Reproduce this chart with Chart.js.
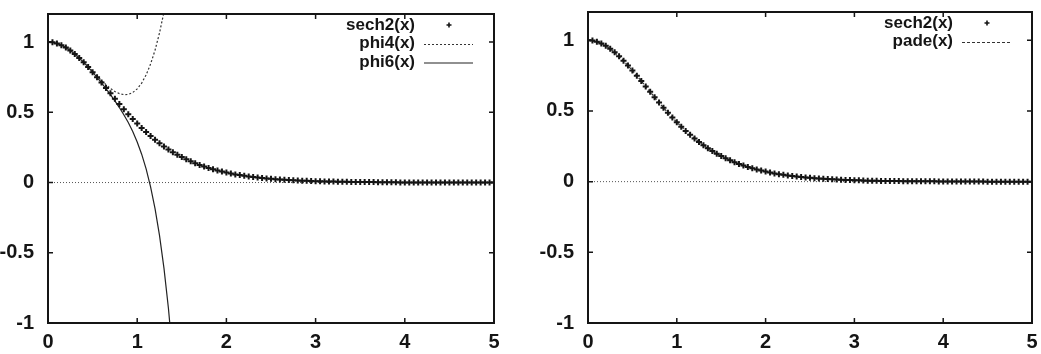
<!DOCTYPE html>
<html>
<head>
<meta charset="utf-8">
<script src="https://cdn.jsdelivr.net/npm/chart.js@4/dist/chart.umd.min.js"></script>
<style>
  html, body { margin: 0; padding: 0; background: #fff; }
  #wrap { position: relative; width: 1041px; height: 354px; }
  .panel { position: absolute; top: 0; height: 354px; }
</style>
</head>
<body>
<div id="wrap">
  <div class="panel" style="left:0;width:520px"><canvas id="leftPlot" width="520" height="354"></canvas></div>
  <div class="panel" style="left:520px;width:521px"><canvas id="rightPlot" width="521" height="354"></canvas></div>
</div>
<script>
// ---- tick labels ----
const xTickValues = [0, 1, 2, 3, 4, 5];
const xTickLabels = ['0', '1', '2', '3', '4', '5'];
const yTickValues = [-1, -0.5, 0, 0.5, 1];
const yTickLabels = ['-1', '-0.5', '0', '0.5', '1'];

// ---- sech2(x) samples (markers) ----
const sechX = [
  0, 0.05, 0.1, 0.15, 0.2, 0.25, 0.3, 0.35, 0.4, 0.45,
  0.5, 0.55, 0.6, 0.65, 0.7, 0.75, 0.8, 0.85, 0.9, 0.95,
  1, 1.05, 1.1, 1.15, 1.2, 1.25, 1.3, 1.35, 1.4, 1.45,
  1.5, 1.55, 1.6, 1.65, 1.7, 1.75, 1.8, 1.85, 1.9, 1.95,
  2, 2.05, 2.1, 2.15, 2.2, 2.25, 2.3, 2.35, 2.4, 2.45,
  2.5, 2.55, 2.6, 2.65, 2.7, 2.75, 2.8, 2.85, 2.9, 2.95,
  3, 3.05, 3.1, 3.15, 3.2, 3.25, 3.3, 3.35, 3.4, 3.45,
  3.5, 3.55, 3.6, 3.65, 3.7, 3.75, 3.8, 3.85, 3.9, 3.95,
  4, 4.05, 4.1, 4.15, 4.2, 4.25, 4.3, 4.35, 4.4, 4.45,
  4.5, 4.55, 4.6, 4.65, 4.7, 4.75, 4.8, 4.85, 4.9, 4.95, 5
];
const sechY = [
  1, 0.998, 0.990, 0.978, 0.961, 0.940, 0.915, 0.887, 0.856, 0.822,
  0.786, 0.749, 0.712, 0.673, 0.635, 0.597, 0.559, 0.522, 0.487, 0.453,
  0.420, 0.389, 0.359, 0.331, 0.305, 0.280, 0.257, 0.236, 0.216, 0.198,
  0.181, 0.165, 0.151, 0.137, 0.125, 0.114, 0.104, 0.094, 0.086, 0.078,
  0.071, 0.064, 0.058, 0.053, 0.048, 0.043, 0.039, 0.036, 0.032, 0.029,
  0.027, 0.024, 0.022, 0.020, 0.018, 0.016, 0.015, 0.013, 0.012, 0.011,
  0.010, 0.009, 0.008, 0.007, 0.007, 0.006, 0.005, 0.005, 0.004, 0.004,
  0.004, 0.003, 0.003, 0.003, 0.002, 0.002, 0.002, 0.002, 0.002, 0.001,
  0.001, 0.001, 0.001, 0.001, 0.001, 0.001, 0.001, 0.001, 0.001, 0.001,
  0.000, 0.000, 0.000, 0.000, 0.000, 0.000, 0.000, 0.000, 0.000, 0.000, 0.000
];

// ---- phi4(x), phi6(x) (left panel lines) ----
const phiX = [
  0, 0.05, 0.1, 0.15, 0.2, 0.25, 0.3, 0.35, 0.4, 0.45,
  0.5, 0.55, 0.6, 0.65, 0.7, 0.75, 0.8, 0.85, 0.9, 0.95,
  1, 1.05, 1.1, 1.15, 1.2, 1.25, 1.3, 1.35, 1.4
];
const phi4Y = [
  1, 0.998, 0.990, 0.978, 0.961, 0.940, 0.915, 0.888, 0.857, 0.825,
  0.792, 0.759, 0.726, 0.697, 0.670, 0.648, 0.633, 0.626, 0.627, 0.641,
  0.667, 0.708, 0.766, 0.844, 0.942, 1.065, 1.214, 1.392, 1.601
];
const phi6Y = [
  1, 0.998, 0.990, 0.978, 0.961, 0.940, 0.915, 0.887, 0.856, 0.822,
  0.786, 0.748, 0.709, 0.668, 0.626, 0.581, 0.534, 0.483, 0.427, 0.363,
  0.289, 0.202, 0.097, -0.030, -0.186, -0.376, -0.609, -0.895, -1.244
];

// ---- pade(x) (right panel line) ----
const padeX = [
  0, 0.1, 0.2, 0.3, 0.4, 0.5, 0.6, 0.7, 0.8, 0.9,
  1, 1.1, 1.2, 1.3, 1.4, 1.5, 1.6, 1.7, 1.8, 1.9,
  2, 2.1, 2.2, 2.3, 2.4, 2.5, 2.6, 2.7, 2.8, 2.9,
  3, 3.1, 3.2, 3.3, 3.4, 3.5, 3.6, 3.7, 3.8, 3.9,
  4, 4.1, 4.2, 4.3, 4.4, 4.5, 4.6, 4.7, 4.8, 4.9, 5
];
const padeY = [
  1, 0.990, 0.961, 0.915, 0.856, 0.786, 0.712, 0.635, 0.559, 0.487,
  0.420, 0.359, 0.305, 0.257, 0.216, 0.181, 0.151, 0.125, 0.104, 0.086,
  0.071, 0.058, 0.048, 0.039, 0.032, 0.026, 0.022, 0.018, 0.015, 0.012,
  0.010, 0.008, 0.007, 0.005, 0.004, 0.004, 0.003, 0.002, 0.002, 0.002,
  0.001, 0.001, 0.001, 0.001, 0.001, 0.000, 0.000, 0.000, 0.000, 0.000, 0.000
];

const INK = '#151515';
const FONT = '"Liberation Sans", Arial, sans-serif';

const toPoints = (xs, ys) => xs.map((x, i) => ({ x: x, y: ys[i] }));

// gnuplot style: frame, inward ticks, zero axis, key in the upper right
const gnuplotLook = {
    id: 'gnuplotLook',
    beforeDatasetsDraw(chart) {
        const { ctx, scales: { x, y } } = chart;
        const y0 = y.getPixelForValue(0);
        ctx.save();
        ctx.strokeStyle = '#555';
        ctx.lineWidth = 1;
        ctx.setLineDash([1, 2]);
        ctx.beginPath();
        ctx.moveTo(x.getPixelForValue(0), y0);
        ctx.lineTo(x.getPixelForValue(5), y0);
        ctx.stroke();
        ctx.restore();
    },
    afterDatasetsDraw(chart) {
        const { ctx, chartArea: a, scales: { x, y } } = chart;
        ctx.save();
        ctx.strokeStyle = INK;
        ctx.lineWidth = 2;
        ctx.strokeRect(a.left, a.top, a.right - a.left, a.bottom - a.top);
        ctx.lineWidth = 1.5;
        ctx.beginPath();
        xTickValues.forEach(v => {
            const px = x.getPixelForValue(v);
            ctx.moveTo(px, a.bottom); ctx.lineTo(px, a.bottom - 5);
            ctx.moveTo(px, a.top); ctx.lineTo(px, a.top + 5);
        });
        yTickValues.forEach(v => {
            const py = y.getPixelForValue(v);
            ctx.moveTo(a.left, py); ctx.lineTo(a.left + 5, py);
            ctx.moveTo(a.right, py); ctx.lineTo(a.right - 5, py);
        });
        ctx.stroke();
        ctx.restore();
    },
    afterDraw(chart) {
        const { ctx, chartArea: a } = chart;
        const ds = chart.data.datasets;
        ctx.save();
        ctx.font = 'bold 17px ' + FONT;
        ctx.fillStyle = INK;
        ctx.textAlign = 'right';
        ctx.textBaseline = 'middle';
        ds.forEach((d, i) => {
            const ty = a.top + 11 + i * 18.5;
            ctx.fillText(d.label, a.right - 79, ty);
            ctx.strokeStyle = d.borderColor;
            if (d.showLine) {
                ctx.lineWidth = d.borderWidth;
                ctx.setLineDash(d.borderDash || []);
                ctx.beginPath();
                ctx.moveTo(a.right - 70, ty + 1);
                ctx.lineTo(a.right - 21, ty + 1);
                ctx.stroke();
            } else {
                ctx.lineWidth = 1.6;
                ctx.setLineDash([]);
                const cx = a.right - 45;
                ctx.beginPath();
                ctx.moveTo(cx - 2.5, ty); ctx.lineTo(cx + 2.5, ty);
                ctx.moveTo(cx, ty - 2.5); ctx.lineTo(cx, ty + 2.5);
                ctx.stroke();
            }
        });
        ctx.restore();
    }
};

const sechDataset = () => ({
    label: 'sech2(x)',
    data: toPoints(sechX, sechY),
    showLine: false,
    pointStyle: 'cross',
    pointRadius: 3,
    pointBorderWidth: 2,
    borderColor: INK,
    backgroundColor: INK
});

function makeChart(canvasId, datasets, axisWidth, padding) {
    const ctx = document.getElementById(canvasId);
    return new Chart(ctx, {
        type: 'scatter',
        data: { datasets: datasets },
        options: {
            responsive: false,
            animation: false,
            layout: { padding: padding },
            plugins: {
                legend: { display: false },
                tooltip: { enabled: false }
            },
            scales: {
                x: {
                    type: 'linear',
                    min: 0,
                    max: 5,
                    afterBuildTicks: s => { s.ticks = xTickValues.map(v => ({ value: v })); },
                    afterFit: s => { s.height = 31; s.paddingLeft = 0; s.paddingRight = 0; },
                    grid: { display: false, drawTicks: false },
                    border: { display: false },
                    ticks: {
                        color: INK,
                        padding: 7,
                        maxRotation: 0,
                        font: { family: FONT, size: 20, weight: 'bold' },
                        callback: v => xTickLabels[xTickValues.indexOf(v)]
                    }
                },
                y: {
                    type: 'linear',
                    min: -1,
                    max: 1.2,
                    afterBuildTicks: s => { s.ticks = yTickValues.map(v => ({ value: v })); },
                    afterFit: s => { s.width = axisWidth; s.paddingTop = 0; s.paddingBottom = 0; },
                    grid: { display: false, drawTicks: false },
                    border: { display: false },
                    ticks: {
                        color: INK,
                        padding: 14,
                        font: { family: FONT, size: 20, weight: 'bold' },
                        callback: v => yTickLabels[yTickValues.indexOf(v)]
                    }
                }
            }
        },
        plugins: [gnuplotLook]
    });
}

makeChart('leftPlot', [
    sechDataset(),
    {
        label: 'phi4(x)',
        data: toPoints(phiX, phi4Y),
        showLine: true,
        pointRadius: 0,
        borderColor: '#333',
        borderWidth: 1.2,
        borderDash: [2, 2]
    },
    {
        label: 'phi6(x)',
        data: toPoints(phiX, phi6Y),
        showLine: true,
        pointRadius: 0,
        borderColor: '#222',
        borderWidth: 1.2
    }
], 48, { left: 0, top: 14, right: 26, bottom: 0 });

makeChart('rightPlot', [
    sechDataset(),
    {
        label: 'pade(x)',
        data: toPoints(padeX, padeY),
        showLine: true,
        pointRadius: 0,
        borderColor: '#333',
        borderWidth: 1.2,
        borderDash: [3, 2]
    }
], 68, { left: 0, top: 12, right: 9, bottom: 0 });
</script>
</body>
</html>
